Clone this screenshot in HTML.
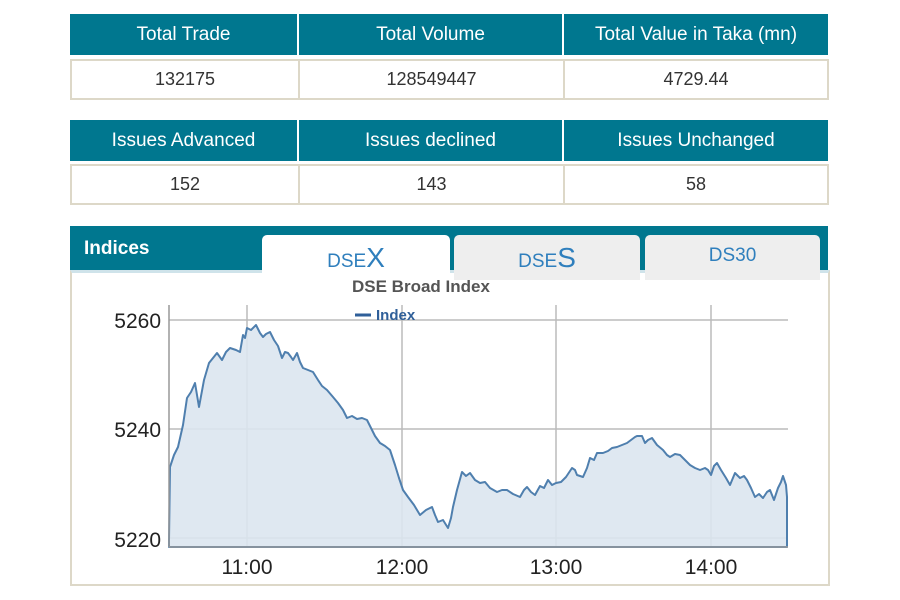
<!DOCTYPE html>
<html><head><meta charset="utf-8"><style>
body{margin:0;width:900px;height:600px;background:#fff;font-family:"Liberation Sans",sans-serif;position:relative;overflow:hidden}
.t{position:absolute;left:70px;width:758px;border-collapse:collapse}
.row{position:absolute;display:flex}
.c{box-sizing:border-box;display:flex;align-items:center;justify-content:center}
.h{background:#00778f;color:#fff;font-size:19px;border-right:2px solid #fff}
.v{background:#fff;color:#333;font-size:18px;border:2px solid #ddd8c8;}
</style></head><body>
<div class="row" style="left:70px;top:14px;height:41px">
<div class="c h" style="width:229px">Total Trade</div><div class="c h" style="width:265px">Total Volume</div><div class="c h" style="width:264px;border:none">Total Value in Taka (mn)</div></div>
<div class="row" style="left:70px;top:59px;height:41px">
<div class="c v" style="width:230px">132175</div><div class="c v" style="width:265px;border-left:none">128549447</div><div class="c v" style="width:264px;border-left:none">4729.44</div></div>
<div class="row" style="left:70px;top:120px;height:41px">
<div class="c h" style="width:229px">Issues Advanced</div><div class="c h" style="width:265px">Issues declined</div><div class="c h" style="width:264px;border:none">Issues Unchanged</div></div>
<div class="row" style="left:70px;top:164px;height:41px">
<div class="c v" style="width:230px">152</div><div class="c v" style="width:265px;border-left:none">143</div><div class="c v" style="width:264px;border-left:none">58</div></div>

<div style="position:absolute;left:70px;top:226px;width:758px;height:44px;background:#00778f"></div>
<div style="position:absolute;left:84px;top:238px;color:#fff;font-weight:bold;font-size:19px">Indices</div>
<div style="position:absolute;left:70px;top:270px;width:756px;height:311px;border:2px solid #ddd8c8;border-top:3px solid #cfe3ea;background:#fff"></div>
<div style="position:absolute;left:262px;top:235px;width:188px;height:48px;background:#fff;border-radius:5px 5px 0 0;text-align:center;color:#2f7fbd;font-size:19px;line-height:46px">DSE<span style="font-size:28px">X</span></div>
<div style="position:absolute;left:454px;top:235px;width:186px;height:45px;background:#eee;border-radius:5px 5px 0 0;text-align:center;color:#2f7fbd;font-size:19px;line-height:46px">DSE<span style="font-size:28px">S</span></div>
<div style="position:absolute;left:645px;top:235px;width:175px;height:45px;background:#eee;border-radius:5px 5px 0 0;text-align:center;color:#2f7fbd;font-size:19px;line-height:42px">DS30</div>

<svg style="position:absolute;left:0;top:0" width="900" height="600">
<g stroke="#bbb" stroke-width="1.5">
<line x1="169" y1="320" x2="788" y2="320"/><line x1="169" y1="429" x2="788" y2="429"/><line x1="169" y1="538" x2="788" y2="538"/>
<line x1="247" y1="305" x2="247" y2="547"/><line x1="402" y1="305" x2="402" y2="547"/><line x1="556" y1="305" x2="556" y2="547"/><line x1="711" y1="305" x2="711" y2="547"/>
</g>
<path fill="#dce5ef" fill-opacity="0.9" stroke="#4f7fae" stroke-width="2" stroke-linejoin="round" d="M169,540 L170,467 L174,455 L178,447 L183,425 L187,398 L191,392 L195,383 L199,407 L204,380 L209,363 L213,358 L217,353 L222,360 L226,352 L230,348 L236,350 L240,352 L243,335 L245,338 L247,328 L251,330 L256,325 L260,333 L263,337 L266,334 L270,332 L274,340 L278,346 L282,358 L285,352 L288,353 L291,357 L293,360 L297,353 L300,362 L303,368 L308,370 L313,372 L318,380 L322,386 L327,390 L333,397 L338,403 L343,410 L347,418 L352,416 L357,419 L362,418 L367,420 L371,428 L375,436 L380,443 L385,446 L390,450 L395,465 L399,478 L403,490 L408,497 L414,505 L420,515 L426,510 L432,507 L435,515 L438,522 L443,520 L448,528 L451,518 L453,507 L457,490 L462,472 L466,476 L470,473 L475,480 L480,483 L485,482 L490,488 L497,492 L502,490 L507,490 L513,494 L520,497 L524,490 L527,487 L531,492 L535,495 L540,486 L544,488 L548,480 L552,485 L556,483 L561,482 L566,477 L572,468 L575,470 L577,475 L583,477 L587,468 L590,458 L594,460 L597,453 L603,453 L608,451 L612,448 L617,447 L622,445 L627,443 L631,440 L635,437 L637,436 L642,436 L645,443 L648,440 L652,438 L657,445 L663,450 L667,455 L670,457 L675,454 L680,455 L685,460 L690,465 L695,468 L700,470 L705,468 L708,470 L711,475 L714,466 L717,463 L721,470 L726,478 L730,485 L735,473 L740,478 L744,476 L747,480 L751,488 L755,497 L759,494 L763,498 L767,492 L770,490 L774,500 L778,488 L781,482 L783,476 L786,485 L787,497 L787,547 L169,547 Z"/>
<line x1="169" y1="305" x2="169" y2="547" stroke="#999" stroke-width="1.5"/>
<line x1="169" y1="547" x2="788" y2="547" stroke="#999" stroke-width="1.5"/>
<g font-family="Liberation Sans" font-size="21" fill="#222" text-anchor="end">
<text x="161" y="328">5260</text><text x="161" y="437">5240</text><text x="161" y="547">5220</text></g>
<g font-family="Liberation Sans" font-size="21" fill="#222" text-anchor="middle">
<text x="247" y="574">11:00</text><text x="402" y="574">12:00</text><text x="556" y="574">13:00</text><text x="711" y="574">14:00</text></g>
<text x="352" y="292" font-family="Liberation Sans" font-size="17" font-weight="bold" fill="#555">DSE Broad Index</text>
<line x1="355" y1="315" x2="371" y2="315" stroke="#2f5f99" stroke-width="3"/>
<text x="376" y="320" font-family="Liberation Sans" font-size="15" font-weight="bold" fill="#2f5f99">Index</text>
</svg>
</body></html>
